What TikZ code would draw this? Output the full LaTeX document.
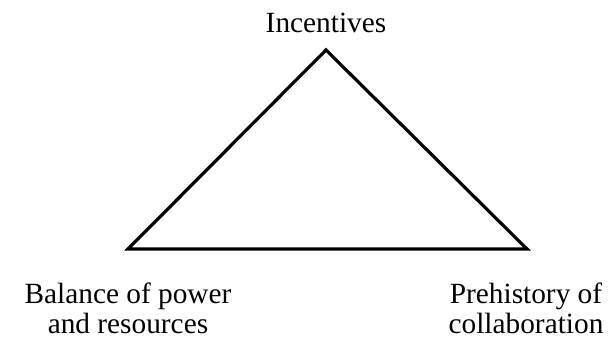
\documentclass[tikz,border=0pt]{standalone}
\usepackage{fontspec}
\setmainfont{Liberation Serif}
\begin{document}
\begin{tikzpicture}[x=0.75pt,y=-0.75pt,
  edge/.style={draw=black,line width=2.4pt,line join=miter},
  lbl/.style={font=\fontsize{22}{22.5}\selectfont,inner sep=0pt,align=center}]
\useasboundingbox[fill=white] (0,0) rectangle (613,349);
% corners of the triangle
\coordinate (top) at (326,50);
\coordinate (bl) at (128,249);
\coordinate (br) at (527,249);
\draw[edge] (top) -- (br) -- (bl) -- cycle;
% corner labels (base anchor sits on the last line)
\node[lbl,anchor=base] (inc) at (326,33) {Incentives};
\node[lbl,anchor=base] (bal) at (128,333) {Balance of power\\and resources};
\node[lbl,anchor=base] (pre) at (526,333) {Prehistory of\\collaboration};
\end{tikzpicture}
\end{document}
